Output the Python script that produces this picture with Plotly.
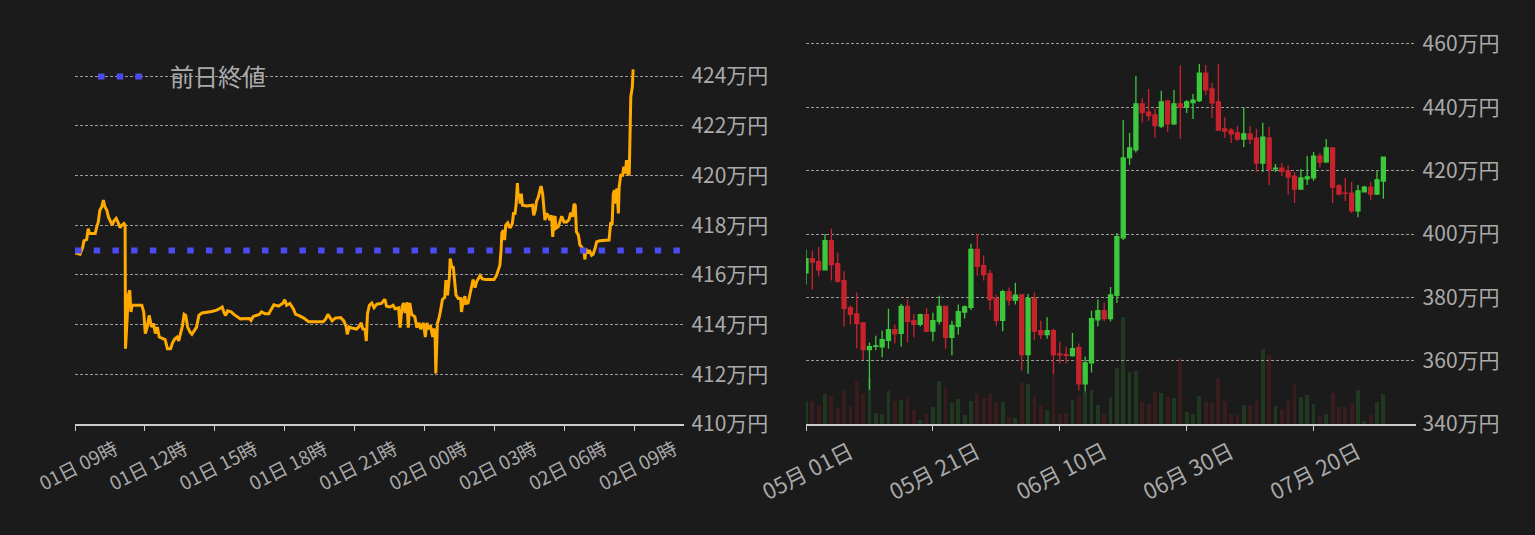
import plotly.graph_objects as go
from datetime import datetime, timedelta

# ---------------- data: intraday line (left) ----------------
line_start = "2023-08-01 09:00"
line_minutes = [0, 13, 20, 23, 30, 34, 37, 52, 56, 60, 64, 69, 73, 77, 82, 86, 92, 96, 100, 106,
                112, 116, 121, 126, 129, 130, 134, 137, 141, 144, 147, 172, 177, 181, 186, 191, 197, 202, 207, 212,
                217, 232, 238, 246, 251, 257, 263, 267, 272, 277, 281, 285, 290, 296, 301, 307, 313, 319, 327, 352,
                365, 375, 379, 384, 388, 393, 402, 409, 421, 426, 449, 453, 459, 475, 480, 489, 499, 507, 512, 524,
                529, 536, 540, 545, 553, 562, 568, 576, 588, 596, 602, 639, 646, 651, 656, 662, 670, 684, 692, 698,
                701, 706, 715, 725, 732, 737, 741, 747, 750, 753, 758, 764, 770, 777, 789, 798, 802, 811, 819, 824,
                833, 837, 842, 846, 850, 855, 858, 862, 867, 875, 880, 886, 890, 897, 902, 906, 911, 915, 921, 924,
                927, 929, 933, 938, 942, 946, 952, 955, 959, 964, 966, 970, 974, 977, 981, 987, 993, 995, 999, 1004,
                1006, 1012, 1017, 1021, 1025, 1030, 1034, 1038, 1043, 1049, 1058, 1068, 1079, 1085, 1090, 1094, 1097, 1099, 1103, 1106,
                1109, 1114, 1118, 1122, 1126, 1129, 1133, 1136, 1139, 1141, 1144, 1146, 1149, 1152, 1163, 1173, 1178, 1181, 1185, 1188,
                1193, 1197, 1200, 1204, 1207, 1210, 1214, 1218, 1223, 1227, 1230, 1233, 1236, 1238, 1244, 1248, 1253, 1259, 1266, 1272,
                1276, 1281, 1285, 1288, 1291, 1296, 1300, 1304, 1310, 1313, 1315, 1320, 1324, 1330, 1334, 1339, 1343, 1351, 1364, 1375,
                1379, 1383, 1386, 1389, 1393, 1395, 1399, 1401, 1405, 1410, 1413, 1417, 1420, 1424, 1427, 1429, 1431, 1435, 1437]
line_prices = [416.88, 416.83, 417.12, 417.37, 417.42, 417.86, 417.66, 417.66, 417.93, 418.13, 418.60, 418.74, 419.01, 418.74, 418.60, 418.33, 418.13, 418.00, 418.17, 418.27,
               418.07, 417.90, 418.00, 418.07, 418.00, 413.03, 414.17, 415.18, 415.38, 414.51, 414.78, 414.78, 414.51, 413.64, 413.90, 414.37, 413.90, 414.04, 413.64, 413.90,
               413.50, 413.40, 413.03, 413.03, 413.26, 413.43, 413.50, 413.34, 413.66, 413.97, 414.41, 414.37, 413.90, 413.70, 413.61, 413.74, 413.90, 414.37, 414.47, 414.53,
               414.58, 414.67, 414.71, 414.47, 414.37, 414.55, 414.51, 414.41, 414.28, 414.23, 414.24, 414.17, 414.33, 414.41, 414.51, 414.44, 414.44, 414.64, 414.80, 414.74,
               414.79, 414.87, 415.00, 414.78, 414.85, 414.64, 414.41, 414.37, 414.27, 414.17, 414.11, 414.11, 414.24, 414.41, 414.28, 414.15, 414.26, 414.28, 414.15, 413.93,
               413.61, 413.90, 413.85, 413.82, 413.93, 414.07, 413.82, 413.80, 413.34, 414.44, 414.78, 414.87, 414.68, 414.82, 414.85, 415.02, 414.74, 414.71, 414.78, 414.64,
               414.67, 413.88, 414.71, 414.87, 414.47, 414.90, 413.88, 414.87, 414.41, 414.31, 413.88, 414.07, 413.82, 414.07, 413.50, 414.07, 413.82, 413.97, 413.50, 413.84,
               413.61, 412.03, 414.04, 414.31, 414.64, 415.01, 415.09, 415.79, 415.18, 415.92, 416.66, 416.32, 416.30, 415.65, 415.18, 415.05, 415.05, 414.51, 414.91, 415.14,
               414.85, 414.87, 415.18, 415.52, 415.81, 415.49, 415.72, 415.85, 415.97, 415.84, 415.81, 415.81, 415.81, 415.97, 416.19, 416.39, 416.99, 417.69, 417.80, 417.40,
               418.00, 418.09, 417.93, 417.93, 418.07, 418.47, 418.47, 418.87, 419.69, 419.14, 419.27, 418.87, 419.27, 418.80, 418.77, 418.77, 418.80, 418.40, 418.60, 418.94,
               419.14, 419.41, 419.57, 419.27, 418.74, 418.20, 418.47, 418.40, 418.20, 418.40, 417.53, 418.27, 418.36, 417.87, 417.93, 418.09, 418.36, 418.13, 418.13, 418.23,
               418.50, 418.34, 418.85, 418.80, 417.73, 417.60, 417.20, 417.13, 417.00, 416.62, 417.06, 416.86, 417.00, 416.79, 416.83, 417.06, 417.33, 417.37, 417.37, 417.40,
               418.07, 418.07, 419.27, 419.41, 418.87, 419.48, 418.47, 419.54, 420.01, 420.01, 420.35, 420.08, 420.62, 420.01, 420.08, 421.96, 423.17, 423.57, 424.27]
prev_close = 416.98
prev_close_label = "前日終値"
line_x_range = ["2023-08-01 09:00", "2023-08-02 11:09"]
line_y_range = [410, 425.45]

# ---------------- data: daily candles (right) ----------------
candle_start = "2023-05-01"
opens = [387.7, 392.2, 391.3, 388.7, 397.9, 390.6, 385.3, 376.7, 374.8, 371.9,
         363.5, 364.5, 364.4, 366.4, 369.8, 368.6, 377.1, 372.6, 371.5, 374.5,
         369.3, 372.4, 377.1, 367.4, 370.8, 375.3, 376.8, 395.1, 390.0, 387.5,
         379.7, 372.7, 381.8, 379.1, 380.8, 361.9, 379.7, 369.5, 368.2, 369.5,
         362.1, 361.9, 361.6, 364.1, 352.7, 359.3, 372.9, 375.8, 373.3, 380.6,
         398.8, 424.1, 426.6, 441.1, 438.5, 437.6, 434.1, 442.0, 434.8, 441.1,
         440.0, 441.5, 442.1, 450.8, 445.8, 441.7, 433.2, 432.8, 431.9, 430.0,
         431.6, 430.3, 422.4, 430.3, 420.6, 420.8, 419.9, 418.3, 414.2, 417.4,
         417.7, 424.6, 422.8, 427.2, 415.2, 412.9, 412.9, 407.3, 413.3, 414.8,
         412.6, 416.7]
highs = [395.1, 394.7, 395.9, 400.0, 401.7, 394.1, 388.2, 377.4, 381.5, 371.9,
         365.7, 367.9, 369.5, 376.4, 371.4, 378.0, 379.3, 374.8, 374.8, 376.6,
         375.1, 380.5, 377.1, 372.6, 377.7, 377.4, 396.9, 400.1, 393.2, 388.7,
         380.8, 382.4, 383.1, 384.6, 380.8, 381.1, 381.5, 372.6, 373.7, 370.1,
         366.0, 364.4, 368.7, 365.4, 361.3, 375.8, 379.3, 378.3, 383.3, 400.3,
         436.0, 431.9, 449.9, 442.9, 445.8, 439.6, 445.2, 442.0, 445.5, 453.2,
         442.3, 444.2, 453.7, 453.4, 447.7, 453.7, 436.9, 433.5, 434.1, 440.0,
         434.1, 433.2, 435.1, 433.8, 422.1, 422.4, 421.8, 419.6, 420.5, 424.6,
         425.9, 425.6, 430.0, 427.2, 415.8, 417.7, 416.4, 415.5, 415.2, 416.4,
         420.2, 424.3]
lows = [384.0, 382.4, 386.6, 388.5, 385.3, 384.5, 370.8, 371.4, 363.9, 360.2,
        350.8, 363.3, 361.1, 363.8, 365.4, 364.5, 365.8, 367.4, 370.8, 369.0,
        366.1, 371.4, 363.8, 361.7, 368.2, 373.3, 376.0, 386.8, 385.3, 375.9,
        371.1, 369.3, 377.4, 377.7, 356.8, 355.9, 366.6, 366.8, 366.9, 355.9,
        359.1, 359.1, 361.2, 350.6, 350.3, 356.3, 370.8, 372.4, 372.4, 378.2,
        398.1, 421.8, 425.7, 435.2, 435.8, 430.4, 433.5, 432.3, 434.4, 430.0,
        438.2, 436.3, 441.7, 443.9, 436.6, 432.8, 430.3, 428.7, 429.4, 427.5,
        428.4, 419.6, 419.6, 415.5, 419.6, 418.3, 412.3, 409.8, 414.2, 415.5,
        416.8, 421.0, 422.4, 409.8, 412.3, 410.4, 406.6, 405.3, 413.3, 410.7,
        412.3, 411.1]
closes = [392.2, 391.1, 388.7, 397.9, 390.3, 385.1, 376.5, 374.6, 371.7, 363.5,
          364.4, 364.7, 366.6, 369.8, 368.5, 377.1, 372.4, 371.5, 374.5, 369.3,
          372.6, 377.1, 367.4, 371.1, 375.5, 377.0, 395.1, 389.8, 387.2, 379.3,
          372.7, 381.8, 379.1, 380.7, 361.9, 379.7, 369.3, 368.2, 369.5, 361.9,
          361.8, 361.7, 363.8, 352.7, 359.3, 373.3, 375.8, 373.3, 380.8, 399.2,
          424.0, 427.2, 441.1, 438.3, 437.4, 434.2, 441.7, 434.8, 441.1, 440.0,
          441.7, 442.3, 450.8, 445.5, 441.4, 432.8, 432.5, 431.6, 430.0, 431.6,
          430.0, 422.4, 430.6, 420.5, 420.8, 419.8, 418.0, 414.2, 417.7, 418.0,
          424.6, 422.7, 427.2, 414.8, 412.6, 412.8, 407.3, 413.6, 414.8, 412.6,
          417.1, 424.3]
volumes = [23, 23, 18, 30, 28, 16, 33, 18, 43, 30,
           46, 11, 10, 33, 23, 24, 27, 14, 4, 10,
           17, 43, 36, 21, 25, 9, 23, 30, 26, 30,
           22, 22, 7, 6, 41, 40, 28, 19, 14, 55,
           10, 11, 24, 28, 32, 34, 19, 10, 27, 56,
           107, 52, 53, 22, 20, 32, 31, 27, 26, 66,
           12, 10, 28, 23, 21, 46, 23, 10, 9, 19,
           19, 25, 75, 69, 18, 15, 23, 40, 27, 29,
           20, 7, 10, 31, 17, 17, 21, 34, 3, 9,
           22, 30]
candle_x_range = ["2023-05-01 00:00", "2023-08-05 02:00"]
candle_ticks = ["2023-05-01", "2023-05-21", "2023-06-10", "2023-06-30", "2023-07-20"]
candle_y_range = [340, 461.26]
volume_range = [0, 384]

# ---------------- styles ----------------
BG = "#1b1b1b"
TXT = "#aaaaaa"
GRID = "#9a9a9a"
AXLINE = "#cccccc"
ORANGE = "#ffaa00"
BLUE = "#4b4bf2"
GREEN = "#3cc83c"
RED = "#c8232d"
FONT = "Noto Sans CJK JP, Noto Sans, sans-serif"

W, H = 1535, 535
def px_x(v):
    return v / W
def px_y(v):
    return (H - v) / H

t0 = datetime.strptime(line_start, "%Y-%m-%d %H:%M")
line_times = [t0 + timedelta(minutes=m) for m in line_minutes]
d0 = datetime.strptime(candle_start, "%Y-%m-%d")
dates = [d0 + timedelta(days=i) for i in range(len(opens))]
vol_colors = ["rgba(60,200,60,0.17)" if c >= o else "rgba(200,35,45,0.17)" for o, c in zip(opens, closes)]

fig = go.Figure()
fig.add_trace(go.Scatter(x=line_times, y=line_prices, mode="lines",
                         line=dict(color=ORANGE, width=3), showlegend=False,
                         xaxis="x", yaxis="y", hoverinfo="skip"))
fig.add_trace(go.Scatter(x=line_x_range, y=[prev_close, prev_close], mode="lines",
                         name="\u2002\u2005\u2006" + prev_close_label,
                         line=dict(color=BLUE, width=6, dash="6.5px,12.2px"),
                         xaxis="x", yaxis="y"))
fig.add_trace(go.Bar(x=dates, y=volumes, marker=dict(color=vol_colors, line=dict(width=0)),
                     width=0.6 * 86400000, showlegend=False, xaxis="x2", yaxis="y2"))
fig.add_trace(go.Candlestick(x=dates, open=opens, high=highs, low=lows, close=closes,
                             increasing=dict(line=dict(color=GREEN, width=1.3), fillcolor=GREEN),
                             decreasing=dict(line=dict(color=RED, width=1.3), fillcolor=RED),
                             whiskerwidth=0, showlegend=False, xaxis="x2", yaxis="y3"))

ydom = [px_y(424), px_y(40)]
common_x = dict(type="date", showgrid=False, zeroline=False, showline=True, linecolor=AXLINE,
                linewidth=2, ticks="outside", ticklen=5, tickcolor=AXLINE, tickwidth=1,
                tickangle=-27, automargin=False)
common_y = dict(side="right", showgrid=True, gridcolor=GRID, gridwidth=1, griddash="3px,2px",
                zeroline=False, showline=False, ticks="", ticksuffix="万円", automargin=False,
                ticklabelstandoff=6,
                tickfont=dict(color=TXT, size=21, family=FONT))

fig.update_layout(
    width=W, height=H,
    autosize=False,
    paper_bgcolor=BG, plot_bgcolor=BG,
    margin=dict(l=0, r=0, t=0, b=0, pad=0, autoexpand=False),
    font=dict(family=FONT, color=TXT),
    boxgap=0.37, boxgroupgap=0,
    bargap=0,
    showlegend=True,
    legend=dict(x=px_x(93), y=px_y(77), xanchor="left", yanchor="middle",
                bgcolor="rgba(0,0,0,0)", font=dict(size=24, color=TXT, family=FONT),
                itemwidth=45),
    xaxis=dict(**common_x, domain=[px_x(75), px_x(684.4)], anchor="y",
               range=line_x_range, dtick=3 * 3600000, tick0=line_start,
               tickformat="%d日 %H時", ticklabelshift=40,
               tickfont=dict(color=TXT, size=19, family=FONT)),
    yaxis=dict(**common_y, domain=ydom, anchor="x", range=line_y_range, dtick=2, tick0=410),
    xaxis2=dict(**common_x, domain=[px_x(806), px_x(1415.6)], anchor="y2",
                range=candle_x_range, tickvals=candle_ticks, tickformat="%m月 %d日",
                ticklabelshift=44,
                tickfont=dict(color=TXT, size=22, family=FONT),
                rangeslider=dict(visible=False)),
    yaxis2=dict(domain=ydom, anchor="x2", range=volume_range, visible=False,
                showgrid=False, zeroline=False, automargin=False),
    yaxis3=dict(**common_y, overlaying="y2", anchor="x2", range=candle_y_range, dtick=20, tick0=340),
)

fig.write_html("out.html", config={"displayModeBar": False},
               post_script="document.body.style.margin='0';document.body.style.background='#1b1b1b';"
                           "document.documentElement.style.background='#1b1b1b';")
